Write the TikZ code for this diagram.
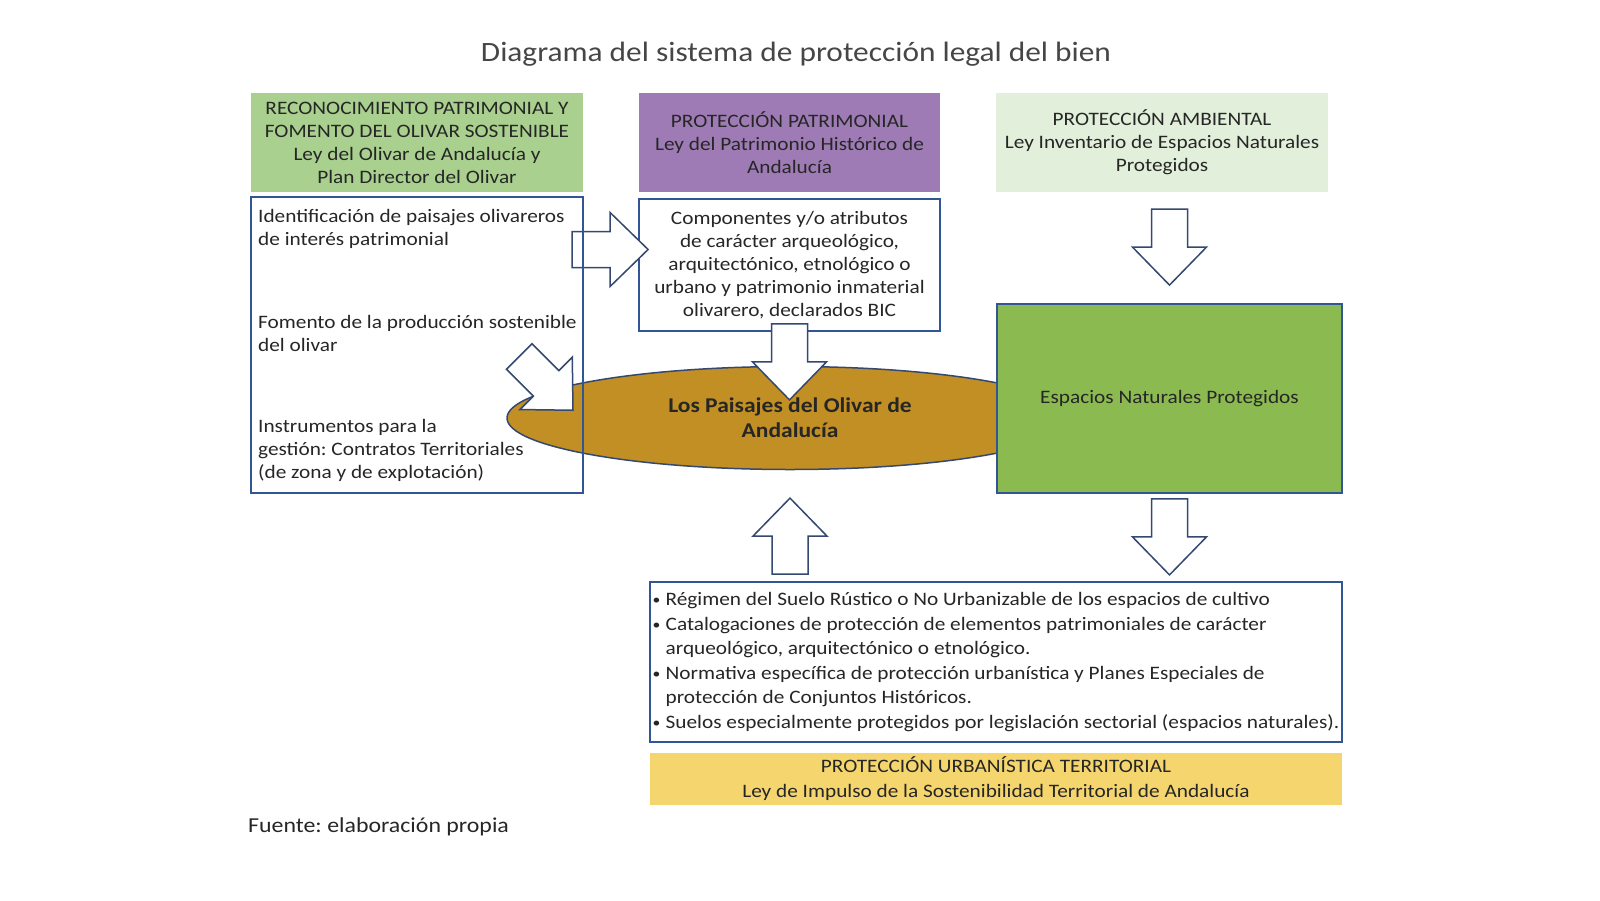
\documentclass[tikz,border=0pt]{standalone}
\usepackage{fontspec}
\setmainfont{Carlito}[FakeStretch=1.12]
\usetikzlibrary{positioning, calc, shapes.geometric}
\definecolor{boxblue}{RGB}{50,85,150}
\definecolor{arrowblue}{RGB}{52,72,112}
\definecolor{inkgray}{RGB}{38,38,38}
\definecolor{titlegray}{RGB}{70,70,70}
\definecolor{recongreen}{RGB}{169,208,142}
\definecolor{patripurple}{RGB}{158,123,181}
\definecolor{ambgreen}{RGB}{226,239,218}
\definecolor{espgreen}{RGB}{139,186,80}
\definecolor{olivegold}{RGB}{193,143,36}
\definecolor{urbyellow}{RGB}{245,214,110}
\tikzset{
    hdr/.style={minimum height=99pt, inner sep=0pt, align=center},
    frame/.style={draw=boxblue, line width=1.8pt, inner sep=0pt},
    blockarrow/.pic={
        \draw[draw=arrowblue, line width=1.5pt, fill=white, line join=miter]
            (0,-18)--(38,-18)--(38,-37)--(76,0)--(38,37)--(38,18)--(0,18)--cycle;}
}
\newcommand{\bul}{\makebox[13pt][l]{\raisebox{1pt}{\fontsize{14}{14}\selectfont\textbullet}}}
\frenchspacing

\begin{document}
\begin{tikzpicture}[x=1pt, y=-1pt, every node/.style={text=inkgray, font=\fontsize{19}{23}\selectfont}]
    \useasboundingbox (0,0) rectangle (1600,900);
    \node[font=\fontsize{28}{34}\selectfont, text=titlegray] (title) at (796,54){Diagrama del sistema de protección legal del bien};
    % cabeceras
    \node[hdr, fill=recongreen, minimum width=332pt] (recon) at (417,142.5){RECONOCIMIENTO PATRIMONIAL Y\\FOMENTO DEL OLIVAR SOSTENIBLE\\Ley del Olivar de Andalucía y\\Plan Director del Olivar};
    \node[hdr, fill=patripurple, minimum width=301pt] (patri) at (789.5,142.5){PROTECCIÓN PATRIMONIAL\\Ley del Patrimonio Histórico de\\Andalucía};
    \node[hdr, fill=ambgreen, minimum width=332pt] (amb) at (1162,142.5){PROTECCIÓN AMBIENTAL\\Ley Inventario de Espacios Naturales\\Protegidos};
    \node[frame, fill=white, minimum width=301pt, minimum height=132pt, align=center] (comp) at (789.5,265){Componentes y/o atributos\\de carácter arqueológico,\\arquitectónico, etnológico o\\urbano y patrimonio inmaterial\\olivarero, declarados BIC};
    % centro
    \node[ellipse, draw=arrowblue, line width=1.5pt, fill=olivegold, minimum width=566pt, minimum height=103pt, inner sep=0pt, align=center, font=\bfseries\fontsize{21}{25}\selectfont] (olivar) at (790,418){Los Paisajes del Olivar de\\Andalucía};
    \node[frame, fill=espgreen, minimum width=345pt, minimum height=189pt] (esp) at (1169.5,398.5){Espacios Naturales Protegidos};
    % flechas
    \pic at ($(comp.west)+(-66,-15.5)$) {blockarrow};
    \pic[rotate=-90] at ($(comp.south)+(0,-8)$) {blockarrow};
    \pic[rotate=-45] at ($(olivar.west)+(13,-61.5)$) {blockarrow};
    \pic[rotate=-90] at ($(esp.north)+(0,-94)$) {blockarrow};
    \pic[rotate=-90] at ($(esp.south)+(0,5)$) {blockarrow};
    % izquierda
    \node[frame, minimum width=332pt, minimum height=296pt] (gest) at (417,345){};
    \node[anchor=west, align=left, inner sep=0pt] (ident) at (258,228.5){Identificación de paisajes olivareros\\de interés patrimonial};
    \node[anchor=west, align=left, inner sep=0pt] (fomento) at (258,333.5){Fomento de la producción sostenible\\del olivar};
    \node[anchor=west, align=left, inner sep=0pt] (instr) at (258,450.5){Instrumentos para la\\gestión: Contratos Territoriales\\(de zona y de explotación)};
    % abajo
    \node[frame, fill=white, minimum width=692pt, minimum height=160pt, align=left, font=\fontsize{19}{24.6}\selectfont] (norm) at (996,662){\bul Régimen del Suelo Rústico o No Urbanizable de los espacios de cultivo\\\bul Catalogaciones de protección de elementos patrimoniales de carácter\\\hspace*{13pt}arqueológico, arquitectónico o etnológico.\\\bul Normativa específica de protección urbanística y Planes Especiales de\\\hspace*{13pt}protección de Conjuntos Históricos.\\\bul Suelos especialmente protegidos por legislación sectorial (espacios naturales).};
    \pic[rotate=90] at ($(norm.north -| olivar.south)+(0,-7)$) {blockarrow};
    \node[fill=urbyellow, minimum width=692pt, minimum height=52pt, inner sep=0pt, align=center, font=\fontsize{19}{25}\selectfont] (urb) at (996,779){PROTECCIÓN URBANÍSTICA TERRITORIAL\\Ley de Impulso de la Sostenibilidad Territorial de Andalucía};
    \node[anchor=west, inner sep=0pt, font=\fontsize{21.3}{26}\selectfont] (fuente) at (248,827){Fuente: elaboración propia};
\end{tikzpicture}
\end{document}
